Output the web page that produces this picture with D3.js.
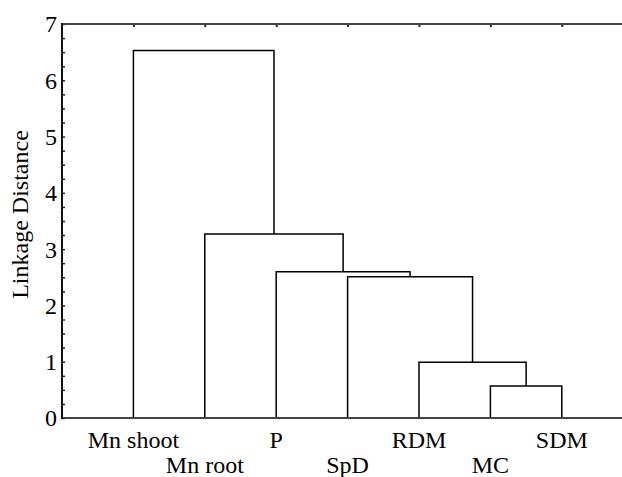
<!DOCTYPE html>
<html>
<head>
<meta charset="utf-8">
<script src="https://cdn.jsdelivr.net/npm/d3@7"></script>
<style>
  body { margin: 0; background: #fff; }
</style>
</head>
<body>
<div id="chart"></div>
<script>
// Leaves in dendrogram order
const leaves = ["Mn shoot", "Mn root", "P", "SpD", "RDM", "MC", "SDM"];
// Merge steps: node ids 0-6 are leaves, each merge creates id 7, 8, ...
const mergeLeft = [5, 4, 3, 2, 1, 0];
const mergeRight = [6, 7, 8, 9, 10, 11];
const mergeHeight = [0.57, 0.99, 2.51, 2.60, 3.27, 6.53];
const yTicks = [0, 1, 2, 3, 4, 5, 6, 7];

const width = 622;
const height = 477;
const margin = { top: 24, left: 62, bottom: 59 };
const font = '"Liberation Serif", "Times New Roman", serif';

const svg = d3.select("#chart")
  .append("svg")
  .attr("width", width)
  .attr("height", height);

// leaf slots run 1..7, frame spans 0..8 (right part is cut off by the window)
const x = d3.scaleLinear()
  .domain([0, leaves.length + 1])
  .range([margin.left, margin.left + 8 * 71.4]);

const y = d3.scaleLinear()
  .domain([0, 7])
  .range([height - margin.bottom, margin.top]);

// node positions
const nodeX = leaves.map((d, i) => x(i + 1));
const nodeH = leaves.map(() => 0);
mergeLeft.forEach((l, i) => {
  const r = mergeRight[i];
  nodeX.push((nodeX[l] + nodeX[r]) / 2);
  nodeH.push(mergeHeight[i]);
});

// links
svg.append("g")
  .selectAll("path")
  .data(mergeHeight)
  .join("path")
  .attr("fill", "none")
  .attr("stroke", "#000")
  .attr("stroke-width", 1.5)
  .attr("d", (h, i) => {
    const l = mergeLeft[i], r = mergeRight[i];
    return `M${nodeX[l]},${y(nodeH[l])}V${y(h)}H${nodeX[r]}V${y(nodeH[r])}`;
  });

// left axis with inward ticks
const minor = d3.range(0, 7.01, 0.25);
svg.append("g")
  .attr("transform", `translate(${margin.left},0)`)
  .call(d3.axisRight(y).tickValues(minor).tickSize(3).tickFormat(""))
  .call(g => g.select(".domain").remove())
  .call(g => g.selectAll("line").attr("stroke", "#222").attr("stroke-width", 1.5));

svg.append("g")
  .selectAll("text")
  .data(yTicks)
  .join("text")
  .attr("x", margin.left - 5)
  .attr("y", d => y(d))
  .attr("dy", "0.35em")
  .attr("text-anchor", "end")
  .style("font-family", font)
  .style("font-size", "24px")
  .text(d => d);

// top axis ticks at leaf slots
svg.append("g")
  .attr("transform", `translate(0,${margin.top})`)
  .call(d3.axisBottom(x).tickValues(d3.range(1, leaves.length + 1)).tickSize(3).tickFormat(""))
  .call(g => g.select(".domain").remove())
  .call(g => g.selectAll("line").attr("stroke", "#222").attr("stroke-width", 2));

// frame lines
svg.append("line")
  .attr("x1", margin.left).attr("x2", width)
  .attr("y1", margin.top).attr("y2", margin.top)
  .attr("stroke", "#444").attr("stroke-width", 2);
svg.append("line")
  .attr("x1", margin.left).attr("x2", width)
  .attr("y1", y(0)).attr("y2", y(0))
  .attr("stroke", "#444").attr("stroke-width", 2);
svg.append("line")
  .attr("x1", margin.left).attr("x2", margin.left)
  .attr("y1", margin.top - 1).attr("y2", y(0) + 1)
  .attr("stroke", "#111").attr("stroke-width", 2);

// leaf labels, staggered in two rows
svg.append("g")
  .selectAll("text")
  .data(leaves)
  .join("text")
  .attr("x", (d, i) => x(i + 1))
  .attr("y", (d, i) => i % 2 === 0 ? 448 : 473)
  .attr("text-anchor", "middle")
  .style("font-family", font)
  .style("font-size", "24px")
  .text(d => d);

// y axis title
svg.append("text")
  .attr("transform", `translate(28,${214.5}) rotate(-90)`)
  .attr("text-anchor", "middle")
  .style("font-family", font)
  .style("font-size", "24px")
  .text("Linkage Distance");
</script>
</body>
</html>
